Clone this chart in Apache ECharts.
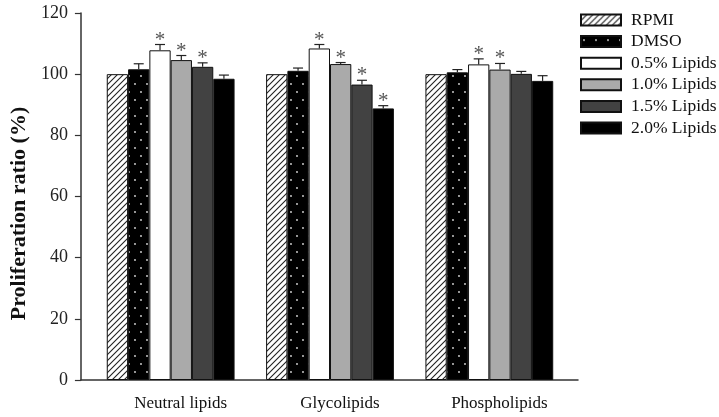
<!DOCTYPE html>
<html>
<head>
<meta charset="utf-8">
<script src="https://cdn.jsdelivr.net/npm/echarts@6/dist/echarts.min.js"></script>
<style>html,body{margin:0;padding:0;background:#fff}#c{width:719px;height:417px}</style>
</head>
<body>
<div id="c"></div>
<script>
const categories = ['Neutral lipids', 'Glycolipids', 'Phospholipids'];
const seriesNames = ['RPMI', 'DMSO', '0.5% Lipids', '1.0% Lipids', '1.5% Lipids', '2.0% Lipids'];
const yTicks = [0, 20, 40, 60, 80, 100, 120];

const rpmi = [100, 100, 100];
const rpmiErr = [0, 0, 0];
const dmso = [101.6, 101.1, 100.6];
const dmsoErr = [1.8, 0.9, 0.9];
const lipids05 = [107.8, 108.4, 103.2];
const lipids05Err = [1.9, 1.3, 1.8];
const lipids10 = [104.6, 103.3, 101.5];
const lipids10Err = [1.5, 0.5, 2.0];
const lipids15 = [102.4, 96.6, 100.1];
const lipids15Err = [1.3, 1.4, 0.8];
const lipids20 = [98.5, 88.8, 97.8];
const lipids20Err = [1.2, 0.9, 1.7];

const rpmiSig = [0, 0, 0];
const dmsoSig = [0, 0, 0];
const lipids05Sig = [1, 1, 1];
const lipids10Sig = [1, 1, 1];
const lipids15Sig = [1, 1, 0];
const lipids20Sig = [0, 1, 0];

const values = [rpmi, dmso, lipids05, lipids10, lipids15, lipids20];
const errors = [rpmiErr, dmsoErr, lipids05Err, lipids10Err, lipids15Err, lipids20Err];
const sigs = [rpmiSig, dmsoSig, lipids05Sig, lipids10Sig, lipids15Sig, lipids20Sig];

const FONT = '"Liberation Serif", "Times New Roman", serif';
const BW = 21.3;

function makeHatch() {
  const c = document.createElement('canvas');
  c.width = 6; c.height = 6;
  const g = c.getContext('2d');
  g.fillStyle = '#fff'; g.fillRect(0, 0, 6, 6);
  g.strokeStyle = '#222'; g.lineWidth = 1.1;
  g.beginPath();
  g.moveTo(-1, 7); g.lineTo(7, -1);
  g.moveTo(-4, 4); g.lineTo(4, -4);
  g.moveTo(2, 10); g.lineTo(10, 2);
  g.stroke();
  return { image: c, repeat: 'repeat' };
}
function makeDots() {
  const c = document.createElement('canvas');
  c.width = 12; c.height = 16;
  const g = c.getContext('2d');
  g.fillStyle = '#000'; g.fillRect(0, 0, 12, 16);
  g.fillStyle = '#ddd';
  g.beginPath(); g.arc(3, 4, 0.9, 0, Math.PI * 2); g.fill();
  g.beginPath(); g.arc(9, 12, 0.9, 0, Math.PI * 2); g.fill();
  return { image: c, repeat: 'repeat' };
}

const fills = [makeHatch(), makeDots(), '#ffffff', '#aaaaaa', '#424242', '#000000'];

const chart = echarts.init(document.getElementById('c'), null, { renderer: 'canvas' });

const barSeries = seriesNames.map((name, i) => ({
  name: name,
  type: 'bar',
  xAxisIndex: 0,
  yAxisIndex: 0,
  barWidth: BW,
  barGap: '0%',
  data: values[i],
  itemStyle: { color: fills[i], borderColor: '#111', borderWidth: 1 },
  emphasis: { disabled: true },
  animation: false
}));

const errData = [];
values.forEach((arr, s) => {
  arr.forEach((v, c) => {
    errData.push([c, v, errors[s][c], sigs[s][c], s]);
  });
});

const errSeries = {
  type: 'custom',
  xAxisIndex: 0,
  yAxisIndex: 0,
  z: 10,
  silent: true,
  animation: false,
  data: errData,
  renderItem: function (params, api) {
    const ci = api.value(0), v = api.value(1), e = api.value(2), sig = api.value(3), s = api.value(4);
    const base = api.coord([ci, v]);
    const top = api.coord([ci, v + e]);
    const x = base[0] + (s - 2.5) * BW;
    const children = [];
    if (e > 0) {
      children.push({
        type: 'line',
        shape: { x1: x, y1: base[1], x2: x, y2: top[1] },
        style: { stroke: '#222', lineWidth: 1.2 }
      });
      children.push({
        type: 'line',
        shape: { x1: x - 5, y1: top[1], x2: x + 5, y2: top[1] },
        style: { stroke: '#222', lineWidth: 1.2 }
      });
    }
    if (sig) {
      children.push({
        type: 'text',
        style: {
          x: x, y: top[1] + 6,
          text: '*',
          fill: '#555',
          font: '21px ' + FONT,
          textAlign: 'center',
          textVerticalAlign: 'bottom'
        }
      });
    }
    return { type: 'group', children: children };
  }
};

chart.setOption({
  backgroundColor: '#fff',
  animation: false,
  textStyle: { fontFamily: FONT },
  legend: {
    data: seriesNames,
    orient: 'vertical',
    left: 580,
    top: 11,
    padding: 0,
    itemWidth: 40,
    itemHeight: 11,
    itemGap: 3.6,
    icon: 'rect',
    selectedMode: false,
    textStyle: { fontFamily: FONT, fontSize: 17.5, lineHeight: 14, color: '#111', padding: [0, 0, 0, 5] }
  },
  grid: [
    { left: 91, width: 478, top: 13, bottom: 37 },
    { left: 76, right: 141, top: 13, bottom: 37 }
  ],
  xAxis: [
    {
      type: 'category',
      gridIndex: 0,
      data: categories,
      axisLine: { show: false },
      axisTick: { show: false },
      axisLabel: { fontFamily: FONT, fontSize: 17, color: '#111', margin: 15, padding: [0, 0, 0, 20] }
    },
    {
      type: 'value',
      gridIndex: 1,
      min: 0, max: 1,
      axisLine: { show: true, lineStyle: { color: '#333', width: 1.5 } },
      axisTick: { show: false },
      axisLabel: { show: false },
      splitLine: { show: false }
    }
  ],
  yAxis: [
    { type: 'value', gridIndex: 0, min: 0, max: 120, show: false },
    {
      type: 'value',
      gridIndex: 1,
      min: yTicks[0],
      max: yTicks[yTicks.length - 1],
      interval: 20,
      name: 'Proliferation ratio (%)',
      nameLocation: 'middle',
      nameGap: 44,
      nameTextStyle: { fontFamily: FONT, fontSize: 22, fontWeight: 'bold', color: '#111', padding: [0, 34, 0, 0] },
      axisLine: { show: true, lineStyle: { color: '#333', width: 1.5 } },
      axisTick: { show: true, length: 6, lineStyle: { color: '#333', width: 1.2 } },
      axisLabel: { fontFamily: FONT, fontSize: 18, color: '#222', margin: 13 },
      splitLine: { show: false }
    }
  ],
  series: barSeries.concat([errSeries])
});
</script>
</body>
</html>
